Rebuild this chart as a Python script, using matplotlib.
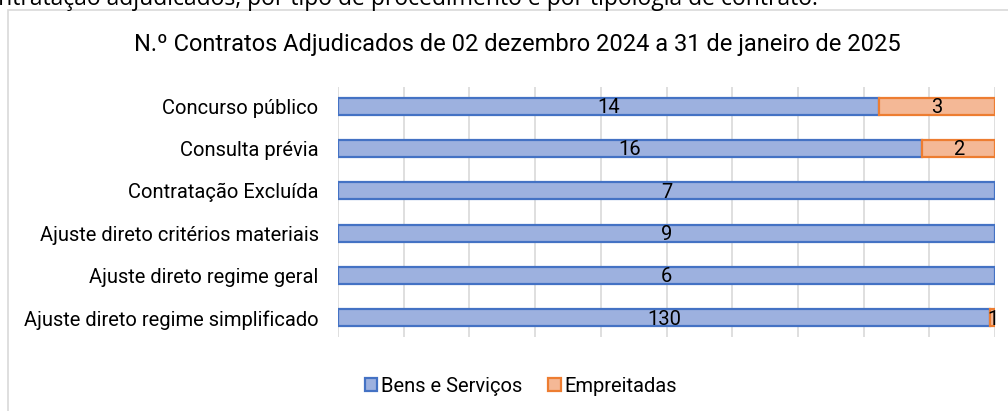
import matplotlib
matplotlib.use("Agg")
import matplotlib.pyplot as plt
from matplotlib.patches import Rectangle
import numpy as np

categories = ["Concurso público", "Consulta prévia", "Contratação Excluída",
              "Ajuste direto critérios materiais", "Ajuste direto regime geral",
              "Ajuste direto regime simplificado"]
bens = [14, 16, 7, 9, 6, 130]
empreitadas = [3, 2, 0, 0, 0, 1]
series_names = ["Bens e Serviços", "Empreitadas"]
title = "N.º Contratos Adjudicados de 02 dezembro 2024 a 31 de janeiro de 2025"
top_text = "Contratação adjudicados, por tipo de procedimento e por tipologia de contrato."

plt.rcParams['font.family'] = ['Roboto', 'DejaVu Sans']

fig = plt.figure(figsize=(10.08, 4.11), dpi=100)
# chart frame
fig.patches.append(Rectangle((8/1008, -0.1), 1.1, (1 - 10/411) + 0.1, transform=fig.transFigure,
                             fill=False, edgecolor='#D9D9D9', lw=1.2))
fig.text(-30/1008, 1 - 5/411, top_text, fontsize=16.5, family=['Open Sans', 'DejaVu Sans'],
         ha='left', va='baseline', color='#000000')

ax = fig.add_axes([338/1008, 1 - 337/411, (995 - 338)/1008, (337 - 87)/411])
b = np.array(bens, dtype=float)
e = np.array(empreitadas, dtype=float)
tot = b + e
bp = b / tot
ep = e / tot
y = np.arange(len(categories))
h = 0.4
ax.barh(y, bp, height=h, color='#9DB1DF', edgecolor='#4472C4', linewidth=1.6,
        label=series_names[0], zorder=3)
mask = e > 0
ax.barh(y[mask], ep[mask], left=bp[mask], height=h, color='#F4B896', edgecolor='#ED7D31',
        linewidth=1.6, label=series_names[1], zorder=3)
for i in range(len(categories)):
    ax.text(bp[i] / 2, y[i] + 0.03, str(bens[i]), ha='center', va='center', fontsize=14.5, zorder=4)
    if e[i] > 0:
        xx = bp[i] + ep[i] / 2
        if ep[i] < 0.03:
            xx = 0.997
        ax.text(xx, y[i] + 0.03, str(empreitadas[i]), ha='center', va='center', fontsize=14.5, zorder=4)

ax.set_xlim(0, 1)
ax.set_ylim(5.45, -0.45)
ax.set_yticks(y)
ax.set_yticklabels(categories, fontsize=14.5)
ax.set_xticks(np.linspace(0, 1, 11))
ax.set_xticklabels([])
ax.tick_params(length=0)
ax.tick_params(axis='y', pad=14)
ax.grid(axis='x', color='#D9D9D9', lw=1.2, zorder=0)
for s in ax.spines.values():
    s.set_visible(False)

fig.text(0.513, 1 - 44/411, title, ha='center', va='center', fontsize=17)
handles, labels = ax.get_legend_handles_labels()
fig.legend(handles, labels, loc='center', bbox_to_anchor=(521/1008, 1 - 386/411), ncol=2,
           frameon=False, fontsize=14.5, handlelength=0.6, handleheight=0.6, handletextpad=0.2,
           columnspacing=1.3)
fig.savefig("out.png", dpi=100)
